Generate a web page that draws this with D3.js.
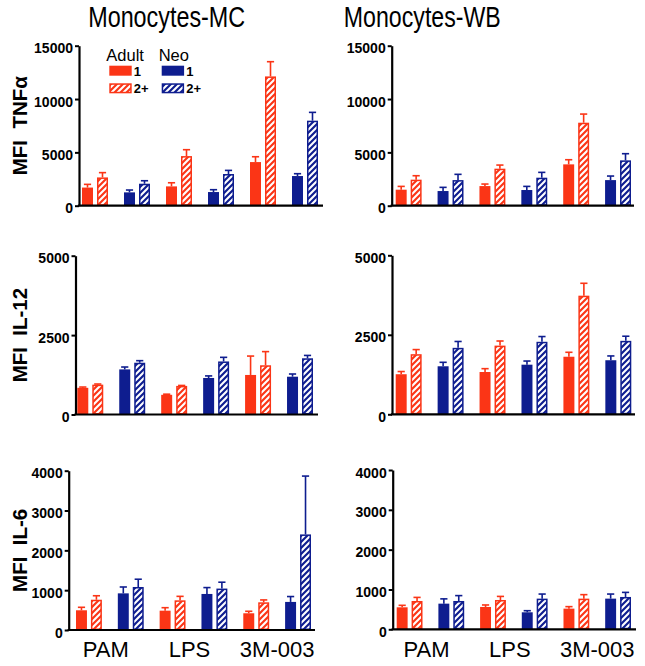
<!DOCTYPE html>
<html><head><meta charset="utf-8">
<script src="https://cdn.jsdelivr.net/npm/d3@7"></script>
<style>
body{margin:0;background:#fff;}
svg text{font-family:"Liberation Sans",Arial,Helvetica,sans-serif;}
</style></head>
<body>
<svg id="c" width="645" height="666"></svg>
<script>
// ---------- DATA ----------
const stimuli = ["PAM", "LPS", "3M-003"];
const ages = ["Adult", "Neo"];
const doses = ["1", "2+"];
const sources = ["Monocytes-MC", "Monocytes-WB"];
const cytokines = ["MFI  TNF\u03b1", "MFI  IL-12", "MFI  IL-6"];

const tnfTicks = [0, 5000, 10000, 15000];
const il12Ticks = [0, 2500, 5000];
const il6Ticks = [0, 1000, 2000, 3000, 4000];

// order: PAM(Adult 1, Adult 2+, Neo 1, Neo 2+), LPS(...), 3M-003(...)
const mcTnfMean = [1700, 2650, 1250, 2060, 1810, 4650, 1280, 2970, 4090, 12120, 2780, 7970];
const mcTnfSem  = [300, 450, 220, 280, 340, 600, 220, 340, 500, 1380, 220, 780];
const wbTnfMean = [1500, 2440, 1375, 2400, 1840, 3470, 1470, 2625, 3875, 7780, 2400, 4250];
const wbTnfSem  = [310, 370, 345, 540, 190, 340, 340, 500, 435, 810, 380, 625];

const mcIl12Mean = [840, 940, 1420, 1630, 620, 900, 1150, 1670, 1245, 1550, 1190, 1770];
const mcIl12Sem  = [25, 20, 75, 65, 20, 15, 65, 130, 595, 430, 85, 90];
const wbIl12Mean = [1260, 1890, 1510, 2090, 1330, 2160, 1560, 2280, 1810, 3730, 1700, 2310];
const wbIl12Sem  = [85, 145, 125, 200, 105, 145, 115, 165, 140, 390, 135, 145];

const mcIl6Mean = [495, 760, 920, 1080, 485, 745, 905, 1040, 420, 695, 705, 2400];
const mcIl6Sem  = [75, 100, 160, 195, 75, 100, 160, 160, 50, 60, 135, 1465];
const wbIl6Mean = [552, 711, 644, 711, 561, 736, 427, 770, 519, 770, 770, 812];
const wbIl6Sem  = [50, 90, 120, 135, 50, 90, 40, 115, 50, 100, 115, 115];

// ---------- SETUP ----------
const RED = "#fb3516", BLUE = "#0e1d8f";
const ageColor = {Adult: RED, Neo: BLUE};
const svg = d3.select("#c");
const defs = svg.append("defs");
function hatch(id, color){
  const s = 6;
  const p = defs.append("pattern").attr("id", id).attr("patternUnits", "userSpaceOnUse")
    .attr("width", s).attr("height", s);
  p.append("rect").attr("width", s).attr("height", s).attr("fill", color);
  p.append("path").attr("d", `M0,${s} L${s},0 M${-s/4},${s/4} L${s/4},${-s/4} M${s*3/4},${s*5/4} L${s*5/4},${s*3/4}`)
    .attr("stroke", "#fff").attr("stroke-width", 2.1);
}
hatch("hAdult", RED); hatch("hNeo", BLUE);
const fillFor = (age, dose) => dose === "1" ? ageColor[age] : `url(#h${age})`;

const panels = [
  {src: 0, cyt: 0, mean: mcTnfMean, sem: mcTnfSem, ticks: tnfTicks,
   ax: 79, x0: 82, x1: 318, xe: 323, y0: 205.7, yt: 45.7},
  {src: 1, cyt: 0, mean: wbTnfMean, sem: wbTnfSem, ticks: tnfTicks,
   ax: 391.7, x0: 395.7, x1: 631, xe: 634, y0: 205.7, yt: 45.7},
  {src: 0, cyt: 1, mean: mcIl12Mean, sem: mcIl12Sem, ticks: il12Ticks,
   ax: 75.5, x0: 77.3, x1: 313, xe: 318, y0: 414.5, yt: 255.7},
  {src: 1, cyt: 1, mean: wbIl12Mean, sem: wbIl12Sem, ticks: il12Ticks,
   ax: 392, x0: 395.7, x1: 631.3, xe: 635, y0: 414.3, yt: 255.3},
  {src: 0, cyt: 2, mean: mcIl6Mean, sem: mcIl6Sem, ticks: il6Ticks,
   ax: 68.7, x0: 76, x1: 311, xe: 315, y0: 630, yt: 470.7},
  {src: 1, cyt: 2, mean: wbIl6Mean, sem: wbIl6Sem, ticks: il6Ticks,
   ax: 392.7, x0: 396.7, x1: 631, xe: 636, y0: 629.3, yt: 470},
];

panels.forEach(P => {
  const g = svg.append("g");
  const y = d3.scaleLinear().domain([0, d3.max(P.ticks)]).range([P.y0, P.yt]);
  // nested band scales: stimulus -> age -> dose
  const xs = d3.scaleBand().domain(stimuli).range([P.x0, P.x1]).paddingInner(16 / 84);
  const xa = d3.scaleBand().domain(ages).range([0, xs.bandwidth()]).paddingInner(16 / 42);
  const xd = d3.scaleBand().domain(doses).range([0, xa.bandwidth()]).paddingInner(4 / 15);

  const rows = [];
  stimuli.forEach((s, si) => ages.forEach((a, ai) => doses.forEach((d, di) => {
    const i = si * 4 + ai * 2 + di;
    rows.push({s, a, d, m: P.mean[i], e: P.sem[i]});
  })));
  const bx = r => xs(r.s) + xa(r.a) + xd(r.d);
  const bw = xd.bandwidth();

  // error bars (upper only)
  rows.forEach(r => {
    const cx = bx(r) + bw / 2, c = ageColor[r.a];
    g.append("line").attr("x1", cx).attr("x2", cx).attr("y1", y(r.m)).attr("y2", y(r.m + r.e))
      .attr("stroke", c).attr("stroke-width", 1.6);
    g.append("line").attr("x1", cx - 3.6).attr("x2", cx + 3.6).attr("y1", y(r.m + r.e)).attr("y2", y(r.m + r.e))
      .attr("stroke", c).attr("stroke-width", 1.6);
  });
  // bars
  rows.forEach(r => {
    const hatched = r.d !== "1";
    const inset = hatched ? 0.75 : 0;
    g.append("rect")
      .attr("x", bx(r) + inset).attr("width", bw - 2 * inset)
      .attr("y", y(r.m) + inset).attr("height", Math.max(0, P.y0 - y(r.m) - 2 * inset))
      .attr("fill", fillFor(r.a, r.d))
      .attr("stroke", hatched ? ageColor[r.a] : "none").attr("stroke-width", 1.5);
  });

  // y axis
  const ya = g.append("g").attr("transform", `translate(${P.ax},0)`)
    .call(d3.axisLeft(y).tickValues(P.ticks).tickSize(4).tickSizeOuter(0).tickPadding(2).tickFormat(d3.format("d")));
  ya.select(".domain").attr("stroke", "#000").attr("stroke-width", 2.2);
  ya.selectAll(".tick line").attr("stroke", "#000").attr("stroke-width", 2);
  ya.selectAll(".tick text").attr("font-size", 14).attr("font-weight", "bold").attr("fill", "#000")
    .attr("font-family", "Liberation Sans, Arial, sans-serif").attr("dy", "0.5em");
  // x axis line
  g.append("line").attr("x1", P.ax - 1.1).attr("x2", P.xe).attr("y1", P.y0).attr("y2", P.y0)
    .attr("stroke", "#000").attr("stroke-width", 2.2);

  // y label (left column)
  if (P.src === 0) {
    g.append("text").attr("transform", `translate(26.5,${(P.y0 + P.yt) / 2}) rotate(-90)`)
      .attr("text-anchor", "middle").attr("font-size", 20.5).attr("font-weight", "bold")
      .style("white-space", "pre").text(cytokines[P.cyt]);
  }
  // category labels (bottom row)
  if (P.cyt === 2) {
    g.selectAll("text.cat").data(stimuli).enter().append("text").attr("class", "cat")
      .attr("x", s => xs(s) + xs.bandwidth() / 2 - (s === "3M-003" ? 0 : 4))
      .attr("y", 656.7).attr("text-anchor", "middle").attr("font-size", 22).text(s => s);
  }
  // titles (top row)
  if (P.cyt === 0) {
    const cx = P.src === 0 ? 166.7 : 422.3;
    svg.append("text").attr("x", cx - 78.5).attr("y", 27).attr("font-size", 30)
      .attr("textLength", 157).attr("lengthAdjust", "spacingAndGlyphs").text(sources[P.src]);
  }
});

// legend (inside top-left panel)
const lg = svg.append("g");
const legX = {Adult: 109.3, Neo: 161.7};
ages.forEach(a => {
  lg.append("text").attr("x", legX[a] - 3).attr("y", 61).attr("font-size", 16.5).text(a);
  doses.forEach((d, di) => {
    const yy = 65.7 + di * 17.6;
    lg.append("rect").attr("x", legX[a] + (d === "1" ? 0 : 0.75)).attr("y", yy + (d === "1" ? 0 : 0.75))
      .attr("width", d === "1" ? 22.4 : 20.9).attr("height", d === "1" ? 10 : 8.5)
      .attr("fill", fillFor(a, d)).attr("stroke", d === "1" ? "none" : ageColor[a]).attr("stroke-width", 1.5);
    lg.append("text").attr("x", legX[a] + 24.5).attr("y", yy + 10).attr("font-size", 13)
      .attr("font-weight", "bold").text(d);
  });
});
</script>
</body></html>
